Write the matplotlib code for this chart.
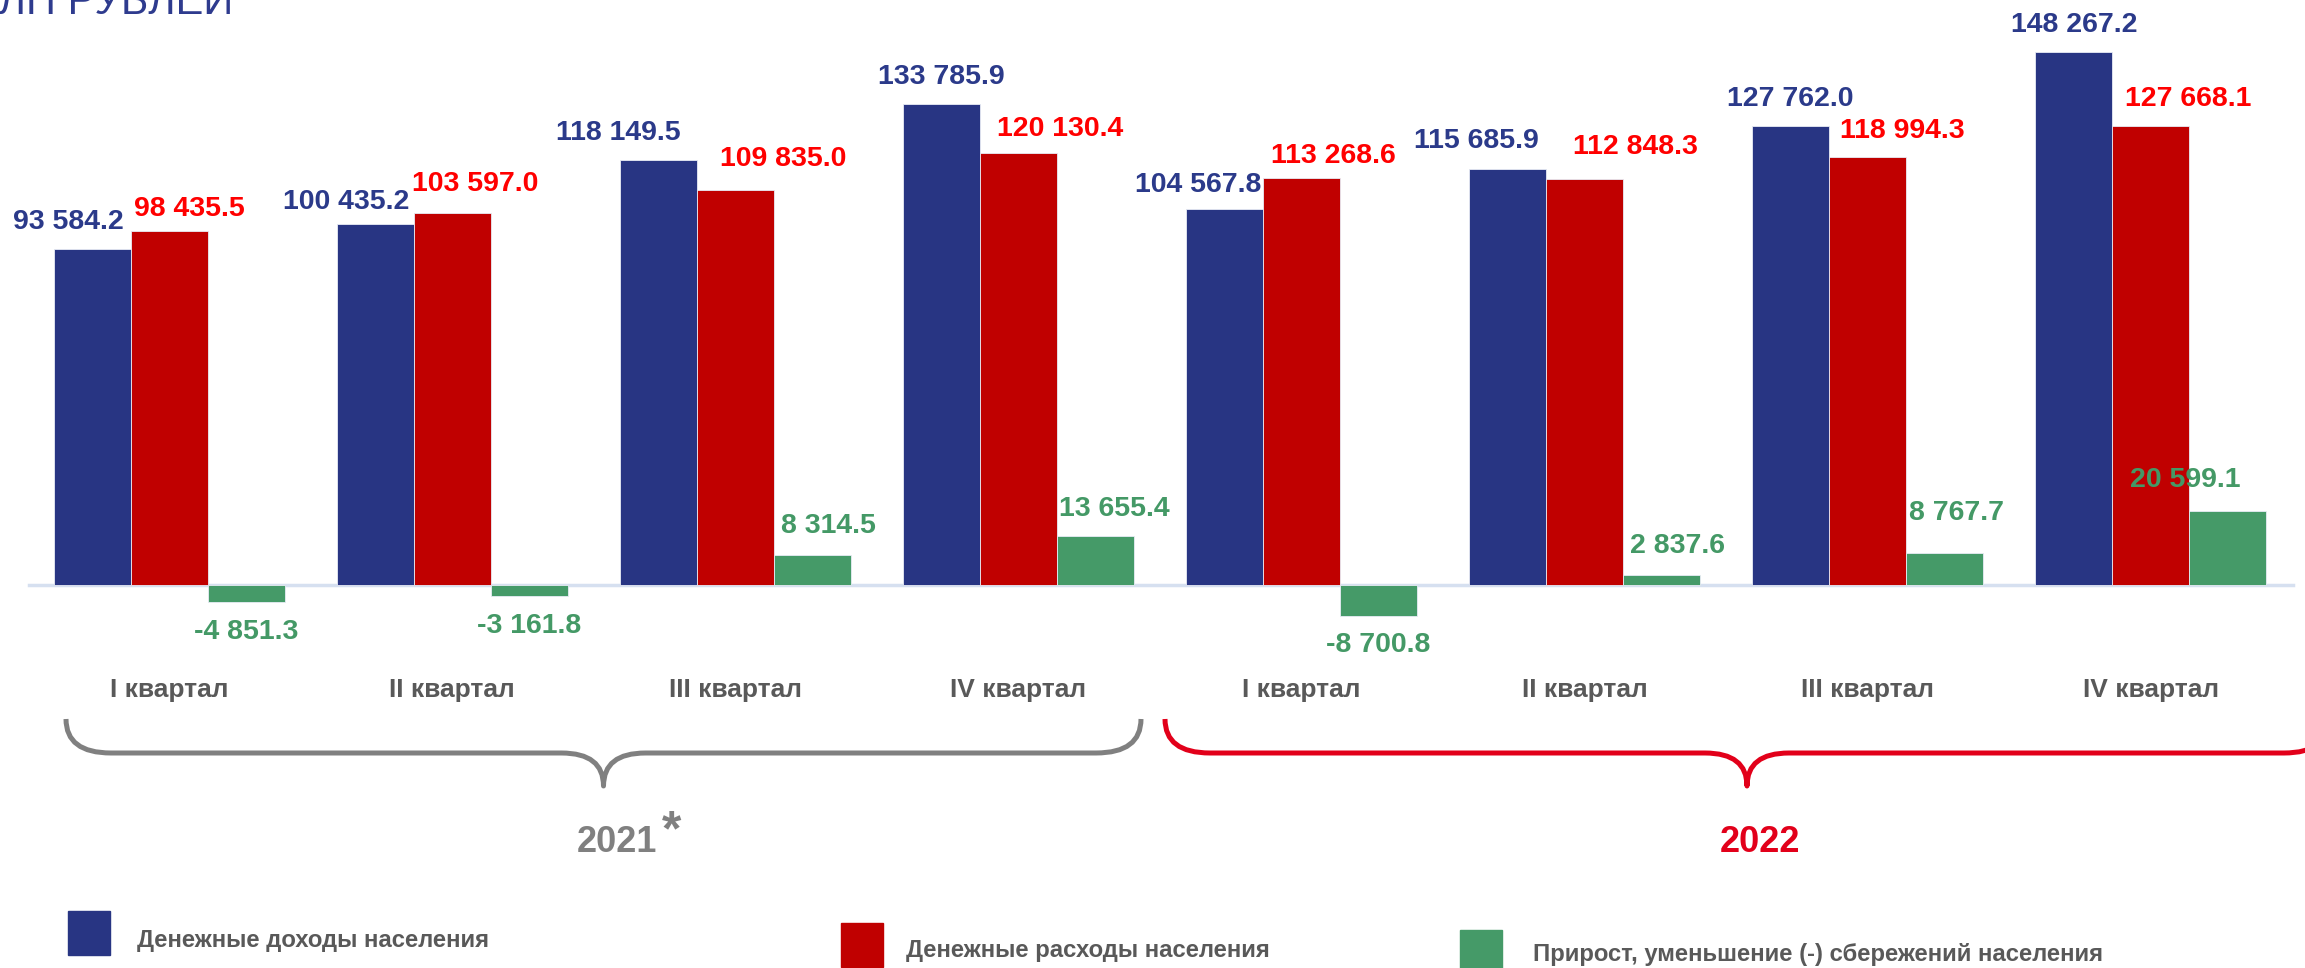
"""Money income, expenditure and savings of the population by quarter, 2021-2022."""

import matplotlib
matplotlib.use('Agg')
import matplotlib.pyplot as plt
from matplotlib.path import Path
from matplotlib.patches import PathPatch, Rectangle

plt.rcParams['font.family'] = ['Liberation Sans', 'DejaVu Sans']

# data (mln rubles)
quarters = ['I квартал', 'II квартал', 'III квартал', 'IV квартал'] * 2
income = [93584.2, 100435.2, 118149.5, 133785.9, 104567.8, 115685.9, 127762.0, 148267.2]
expenses = [98435.5, 103597.0, 109835.0, 120130.4, 113268.6, 112848.3, 118994.3, 127668.1]
savings = [-4851.3, -3161.8, 8314.5, 13655.4, -8700.8, 2837.6, 8767.7, 20599.1]
years = ['2021', '2022']
legend_labels = ['Денежные доходы населения',
                 'Денежные расходы населения',
                 'Прирост, уменьшение (-) сбережений населения']

# label nudges in pixels (dx, distance from bar end)
income_dx = [-24, -29, -40, 0, -26, -31, 0, 0]
income_dy = [27, 22, 27, 27, 24, 28, 27, 27]
expenses_dx = [20, 23, 48, 42, 32, 51, 35, 37]
expenses_dy = [22, 29, 31, 24, 22, 32, 26, 27]
savings_dx = [0, 0, 16, 19, 0, 16, 12, -43]
savings_dy = [30, 30, 29, 27, 29, 29, 40, 31]

BLUE = '#283583'
RED = '#C00000'
GREEN = '#459A68'
LBL_BLUE = '#2B3A8A'
LBL_RED = '#FF0000'
LBL_GREEN = '#449966'
GRAY = '#595959'
W, H = 2305, 968


def fmt(v):
    return f'{v:,.1f}'.replace(',', ' ')


fig = plt.figure(figsize=(W / 100, H / 100), dpi=100)
ax = fig.add_axes([0, 0, 1, 1])
ax.axis('off')

# x: group units, bar width 77 px of 283 px group step
step = 283.1
bw = 77 / step
x0 = (53.6 + 1.5 * 77) / step
ax.set_xlim(-x0, (W - 53.6 - 1.5 * 77) / step)
k = 278.17  # units per pixel
ax.set_ylim(-(H - 585) * k, 585 * k)

xs = list(range(len(quarters)))
series = [(income, BLUE, LBL_BLUE, income_dx, income_dy, -bw),
          (expenses, RED, LBL_RED, expenses_dx, expenses_dy, 0),
          (savings, GREEN, LBL_GREEN, savings_dx, savings_dy, bw)]

ax.axhline(0, xmin=29 / W, xmax=2293 / W, color='#D6E0F0', lw=2.5, zorder=1)

for vals, col, lcol, dxs, dys, off in series:
    pos = [x + off for x in xs]
    ax.bar(pos, vals, width=bw, color=col, edgecolor='#E8ECF5', linewidth=0.6, zorder=2)
    for p, v, dx, dy in zip(pos, vals, dxs, dys):
        sign = 1 if v >= 0 else -1
        ax.annotate(fmt(v), xy=(p, v), xytext=(dx, sign * dy), textcoords='offset pixels',
                    ha='center', va='center', fontsize=20.5, fontweight='bold', color=lcol)

for x, q in zip(xs, quarters):
    ax.annotate(q, xy=(x, 0), xytext=(0, -105), textcoords='offset pixels',
                ha='center', va='center', fontsize=19, fontweight='bold', color=GRAY)

# overlay in pixel coordinates for braces, title and legend
ov = fig.add_axes([0, 0, 1, 1])
ov.set_xlim(0, W)
ov.set_ylim(H, 0)
ov.axis('off')


def brace(xl, xr, color):
    xc = (xl + xr) / 2
    ytop, yh, ytip = 719, 753, 786
    r, r2 = 45, 42
    verts = [(xl, ytop), (xl, yh), (xl + r, yh),
             (xc - r2, yh), (xc, yh), (xc, ytip),
             (xc, yh), (xc + r2, yh),
             (xr - r, yh), (xr, yh), (xr, ytop)]
    codes = [Path.MOVETO, Path.CURVE3, Path.CURVE3,
             Path.LINETO, Path.CURVE3, Path.CURVE3,
             Path.CURVE3, Path.CURVE3,
             Path.LINETO, Path.CURVE3, Path.CURVE3]
    ov.add_patch(PathPatch(Path(verts, codes), fill=False, edgecolor=color,
                           lw=3.6, capstyle='butt', joinstyle='round'))


brace(66, 1141, '#808080')
brace(1165, 2329, '#E2001A')

ov.text(617, 842, years[0], ha='center', va='center', fontsize=26,
        fontweight='bold', color='#808080')
ov.text(672, 832, '*', ha='center', va='center', fontsize=36,
        fontweight='bold', color='#808080')
ov.text(1760, 842, years[1], ha='center', va='center', fontsize=26,
        fontweight='bold', color='#E2001A')

# title, cut by the top edge as in the source slide
ov.text(-36, 14, 'МЛН РУБЛЕЙ', ha='left', va='baseline', fontsize=30,
        color='#2E3B8E', clip_on=False)

# legend
legend_pos = [(68, 911, 137, 941), (841, 923, 906, 951), (1460, 930, 1533, 954)]
for (sx, sy, tx, ty), lab, col in zip(legend_pos, legend_labels, [BLUE, RED, GREEN]):
    ov.add_patch(Rectangle((sx, sy), 42, 44, color=col))
    ov.text(tx, ty, lab, ha='left', va='center', fontsize=17.2,
            fontweight='bold', color=GRAY)

fig.savefig('out.png', dpi=100)
